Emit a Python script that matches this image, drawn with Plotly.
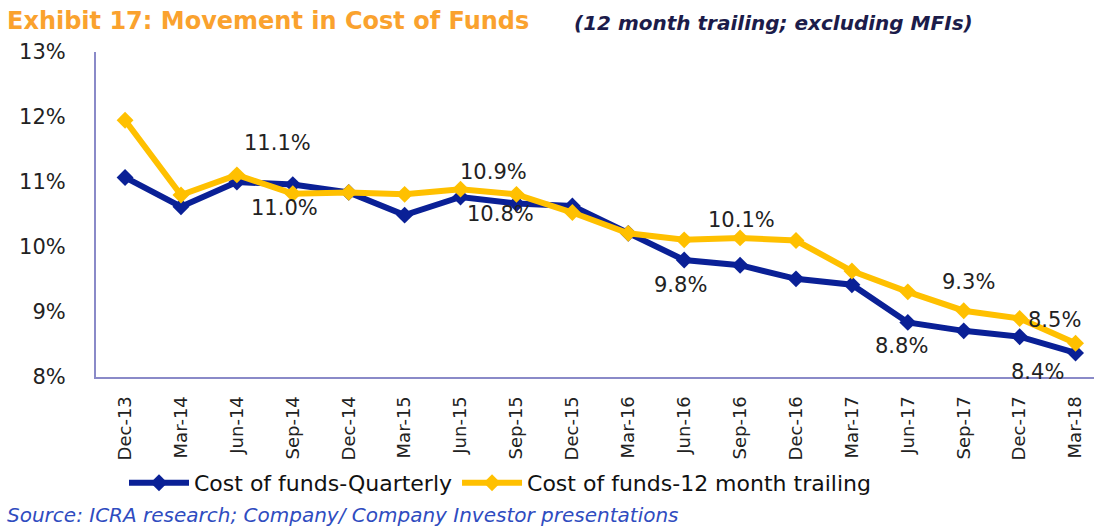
import plotly.graph_objects as go

categories = ["Dec-13", "Mar-14", "Jun-14", "Sep-14", "Dec-14", "Mar-15", "Jun-15", "Sep-15",
              "Dec-15", "Mar-16", "Jun-16", "Sep-16", "Dec-16", "Mar-17", "Jun-17", "Sep-17",
              "Dec-17", "Mar-18"]
quarterly = [11.07, 10.62, 11.0, 10.96, 10.84, 10.49, 10.77, 10.67, 10.63, 10.21,
             9.8, 9.72, 9.51, 9.42, 8.84, 8.71, 8.62, 8.37]
trailing = [11.95, 10.8, 11.11, 10.82, 10.84, 10.81, 10.89, 10.81, 10.53, 10.21,
            10.11, 10.14, 10.1, 9.63, 9.31, 9.02, 8.9, 8.52]
y_ticks = [8, 9, 10, 11, 12, 13]
y_tick_labels = ["8%", "9%", "10%", "11%", "12%", "13%"]

# (series, category, xshift, yshift) for data labels
label_specs = [
    ("trailing", "Jun-14", 41, 32),
    ("quarterly", "Jun-14", 48, -26),
    ("trailing", "Jun-15", 33, 17),
    ("quarterly", "Jun-15", 40, -17),
    ("trailing", "Sep-16", 1, 18),
    ("quarterly", "Jun-16", -4, -25),
    ("trailing", "Jun-17", 61, 10),
    ("quarterly", "Jun-17", -6, -24),
    ("trailing", "Mar-18", -21, 23),
    ("quarterly", "Mar-18", -38, -19),
]

BLUE = "#0A2096"
GOLD = "#FFC000"

fig = go.Figure()
fig.add_trace(go.Scatter(
    x=categories, y=quarterly, mode="lines+markers", name="Cost of funds-Quarterly",
    line=dict(color=BLUE, width=6), marker=dict(symbol="diamond", size=13, color=BLUE),
))
fig.add_trace(go.Scatter(
    x=categories, y=trailing, mode="lines+markers", name="Cost of funds-12 month trailing",
    line=dict(color=GOLD, width=6), marker=dict(symbol="diamond", size=13, color=GOLD),
))

series = {"quarterly": quarterly, "trailing": trailing}
annotations = []
for s, cat, xs, ys in label_specs:
    v = series[s][categories.index(cat)]
    annotations.append(dict(
        x=cat, y=v, xref="x", yref="y", text=f"{v:.1f}%", showarrow=False,
        xshift=xs, yshift=ys, xanchor="center", yanchor="middle",
        font=dict(family="DejaVu Sans", size=21, color="#222222"),
    ))

L, W, T, H = 96, 998, 52, 325
def px(xp):
    return (xp - L) / W
def py(yp):
    return (T + H - yp) / H

annotations.append(dict(
    x=px(5), y=py(21), xref="paper", yref="paper", xanchor="left", yanchor="middle",
    text="<b>Exhibit 17: Movement in Cost of Funds</b>", showarrow=False,
    font=dict(family="DejaVu Sans", size=24, color="#FAA22E"),
))
annotations.append(dict(
    x=px(572), y=py(23), xref="paper", yref="paper", xanchor="left", yanchor="middle",
    text="<b><i>(12 month trailing; excluding MFIs)</i></b>", showarrow=False,
    font=dict(family="DejaVu Sans", size=20, color="#1C1C4A"),
))
annotations.append(dict(
    x=px(5), y=py(515), xref="paper", yref="paper", xanchor="left", yanchor="middle",
    text="<i>Source: ICRA research; Company/ Company Investor presentations</i>", showarrow=False,
    font=dict(family="DejaVu Sans", size=20, color="#2F4CC0"),
))

fig.update_layout(
    width=1094, height=527,
    margin=dict(l=L, r=1094 - L - W, t=T, b=527 - T - H),
    plot_bgcolor="white", paper_bgcolor="white",
    showlegend=True,
    legend=dict(orientation="h", x=px(124), y=py(483), xanchor="left", yanchor="middle",
                font=dict(family="DejaVu Sans", size=22, color="#111111"),
                itemwidth=60, tracegroupgap=0, bgcolor="rgba(0,0,0,0)"),
    annotations=annotations,
    xaxis=dict(
        type="category", range=[-0.52, 17.33], showgrid=False, zeroline=False,
        showline=True, linecolor="#8A8AC8", linewidth=2,
        tickangle=-90, ticks="", ticklabelstandoff=10,
        tickfont=dict(family="DejaVu Sans", size=18, color="#222222"),
    ),
    yaxis=dict(
        range=[8, 13], tickvals=y_ticks, ticktext=y_tick_labels, showgrid=False,
        zeroline=False, showline=True, linecolor="#8A8AC8", linewidth=2,
        ticks="", ticklabelstandoff=24,
        tickfont=dict(family="DejaVu Sans", size=21, color="#222222"),
    ),
)

fig.write_html("out.html", config={"displayModeBar": False},
               post_script="document.body.style.margin='0';")
